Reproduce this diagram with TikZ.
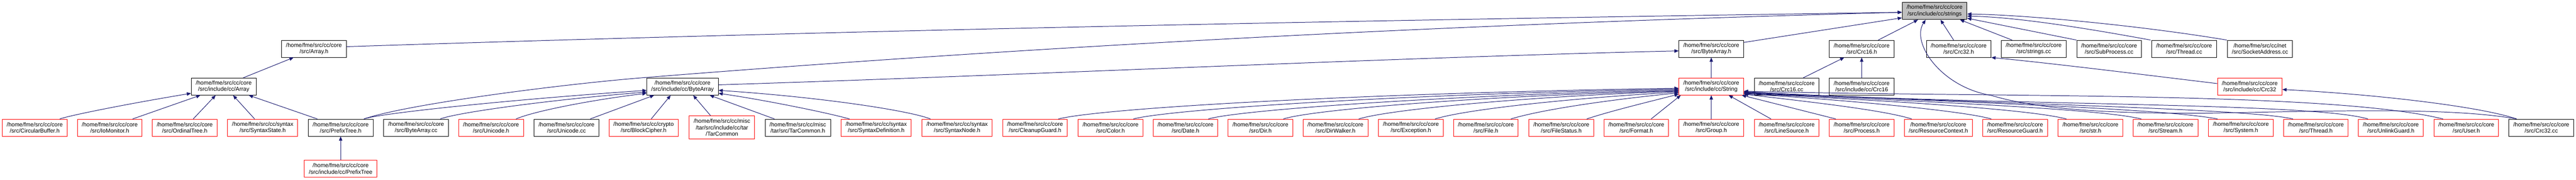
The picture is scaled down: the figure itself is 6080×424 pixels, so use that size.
\documentclass[tikz,border=0pt]{standalone}
\usepackage{fontspec}
\setmainfont{Liberation Sans}
\usetikzlibrary{arrows.meta}
\definecolor{midnight}{HTML}{191970}
\definecolor{boxgray}{HTML}{BFBFBF}
\newcommand{\nodefont}{\fontsize{13.4pt}{15.3pt}\selectfont}
\begin{document}
\begin{tikzpicture}[x=1pt,y=-1pt,
  box/.style={draw=black, fill=white, line width=1.1pt, align=center, inner xsep=10.5pt, inner ysep=0pt, minimum height=40pt, font=\nodefont},
  redbox/.style={box, draw=red},
  graybox/.style={box, fill=boxgray},
  dep/.style={draw=midnight, line width=1.2pt, -{Triangle[length=10pt,width=8pt]}}]
\useasboundingbox (0,0) rectangle (6080,424);
\fill[white] (0,0) rectangle (6080,424);
% top
\node[graybox] (strings) at (4566,26) {/home/fme/src/cc/core\\/src/include/cc/strings};
% row 2
\node[box] (arrayh) at (741,115) {/home/fme/src/cc/core\\/src/Array.h};
\node[box] (bah) at (4039,115) {/home/fme/src/cc/core\\/src/ByteArray.h};
\node[box] (crc16h) at (4394,115) {/home/fme/src/cc/core\\/src/Crc16.h};
\node[box] (crc32h) at (4623,115) {/home/fme/src/cc/core\\/src/Crc32.h};
\node[box] (stringscc) at (4800,115) {/home/fme/src/cc/core\\/src/strings.cc};
\node[box] (subproc) at (4978,115) {/home/fme/src/cc/core\\/src/SubProcess.cc};
\node[box] (threadcc) at (5155,115) {/home/fme/src/cc/core\\/src/Thread.cc};
\node[box] (sockaddr) at (5334,115) {/home/fme/src/cc/net\\/src/SocketAddress.cc};
% row 3
\node[box] (incarray) at (528,204) {/home/fme/src/cc/core\\/src/include/cc/Array};
\node[box] (incba) at (1611,204) {/home/fme/src/cc/core\\/src/include/cc/ByteArray};
\node[redbox] (incstring) at (4039,204) {/home/fme/src/cc/core\\/src/include/cc/String};
\node[box] (crc16cc) at (4217,204) {/home/fme/src/cc/core\\/src/Crc16.cc};
\node[box] (inccrc16) at (4394,204) {/home/fme/src/cc/core\\/src/include/cc/Crc16};
\node[redbox] (inccrc32) at (5310,204) {/home/fme/src/cc/core\\/src/include/cc/Crc32};
% row 4
\node[redbox] (circ) at (82,301) {/home/fme/src/cc/core\\/src/CircularBuffer.h};
\node[redbox] (iomon) at (259,301) {/home/fme/src/cc/core\\/src/IoMonitor.h};
\node[redbox] (ordtree) at (436,301) {/home/fme/src/cc/core\\/src/OrdinalTree.h};
\node[redbox] (synstate) at (620,301) {/home/fme/src/cc/syntax\\/src/SyntaxState.h};
\node[box] (ptreeh) at (804,301) {/home/fme/src/cc/core\\/src/PrefixTree.h};
\node[box] (bacc) at (982,301) {/home/fme/src/cc/core\\/src/ByteArray.cc};
\node[redbox] (unih) at (1159,301) {/home/fme/src/cc/core\\/src/Unicode.h};
\node[box] (unicc) at (1337,301) {/home/fme/src/cc/core\\/src/Unicode.cc};
\node[redbox] (blockc) at (1519,301) {/home/fme/src/cc/crypto\\/src/BlockCipher.h};
\node[redbox, minimum height=55pt] (tarinc) at (1704,300.5) {/home/fme/src/cc/misc\\/tar/src/include/cc/tar\\/TarCommon};
\node[box] (tarh) at (1883,301) {/home/fme/src/cc/misc\\/tar/src/TarCommon.h};
\node[redbox] (syndef) at (2068,301) {/home/fme/src/cc/syntax\\/src/SyntaxDefinition.h};
\node[redbox] (synnode) at (2259,301) {/home/fme/src/cc/syntax\\/src/SyntaxNode.h};
\node[redbox] (cleanup) at (2443,301) {/home/fme/src/cc/core\\/src/CleanupGuard.h};
\node[redbox] (color) at (2621,301) {/home/fme/src/cc/core\\/src/Color.h};
\node[redbox] (date) at (2798,301) {/home/fme/src/cc/core\\/src/Date.h};
\node[redbox] (dir) at (2975,301) {/home/fme/src/cc/core\\/src/Dir.h};
\node[redbox] (dirwalker) at (3152,301) {/home/fme/src/cc/core\\/src/DirWalker.h};
\node[redbox] (exception) at (3330,301) {/home/fme/src/cc/core\\/src/Exception.h};
\node[redbox] (file) at (3507,301) {/home/fme/src/cc/core\\/src/File.h};
\node[redbox] (filestatus) at (3685,301) {/home/fme/src/cc/core\\/src/FileStatus.h};
\node[redbox] (format) at (3862,301) {/home/fme/src/cc/core\\/src/Format.h};
\node[redbox] (group) at (4039,301) {/home/fme/src/cc/core\\/src/Group.h};
\node[redbox] (linesrc) at (4217,301) {/home/fme/src/cc/core\\/src/LineSource.h};
\node[redbox] (process) at (4394,301) {/home/fme/src/cc/core\\/src/Process.h};
\node[redbox] (rescontext) at (4575,301) {/home/fme/src/cc/core\\/src/ResourceContext.h};
\node[redbox] (resguard) at (4756,301) {/home/fme/src/cc/core\\/src/ResourceGuard.h};
\node[redbox] (strh) at (4934,301) {/home/fme/src/cc/core\\/src/str.h};
\node[redbox] (stream) at (5111,301) {/home/fme/src/cc/core\\/src/Stream.h};
\node[redbox] (system) at (5289,301) {/home/fme/src/cc/core\\/src/System.h};
\node[redbox] (threadh) at (5466,301) {/home/fme/src/cc/core\\/src/Thread.h};
\node[redbox] (unlink) at (5643,301) {/home/fme/src/cc/core\\/src/UnlinkGuard.h};
\node[redbox] (user) at (5821,301) {/home/fme/src/cc/core\\/src/User.h};
\node[box] (crc32cc) at (5998,301) {/home/fme/src/cc/core\\/src/Crc32.cc};
% row 5
\node[redbox] (incptree) at (804,398) {/home/fme/src/cc/core\\/src/include/cc/PrefixTree};

% ---- edges: Array group
\draw[dep] ([xshift=46pt]incarray.north) -- ([xshift=-48pt]arrayh.south);
\draw[dep] ([xshift=59pt]circ.north) .. controls (165,272) and (300,245) .. ([yshift=-16pt]incarray.west);
\draw[dep] ([xshift=54pt]iomon.north) -- ([xshift=-55pt]incarray.south);
\draw[dep] ([xshift=20pt]ordtree.north) -- ([xshift=-19pt]incarray.south);
\draw[dep] ([xshift=-19pt]synstate.north) -- ([xshift=22pt]incarray.south);
\draw[dep] ([xshift=-55pt]ptreeh.north) -- ([xshift=59pt]incarray.south);
\draw[dep] (incptree.north) -- (ptreeh.south);
% ---- to strings from the left
\draw[dep] ([yshift=5pt]arrayh.east) .. controls (2041,70) and (3265,47) .. ([yshift=-3pt]strings.west);
\draw[dep] ([xshift=55pt]ptreeh.north) .. controls (959,246) and (1320,199) .. (1520,183) .. controls (2510,104) and (3499,55) .. ([yshift=-3pt]strings.west);
% ---- ByteArray include group
\draw[dep] ([xshift=55pt]ptreeh.north) .. controls (890,268) and (1200,235) .. ([yshift=-9pt]incba.west);
\draw[dep] ([xshift=57pt]bacc.north) .. controls (1080,265) and (1300,235) .. ([yshift=-13pt]incba.west);
\draw[dep] ([xshift=59pt]unih.north) .. controls (1260,262) and (1400,235) .. ([yshift=-16pt]incba.west);
\draw[dep] ([xshift=56pt]unicc.north) -- ([xshift=-67pt]incba.south);
\draw[dep] ([xshift=18pt]blockc.north) -- ([xshift=-28pt]incba.south);
\draw[dep] ([xshift=-27pt]tarinc.north) -- ([xshift=25pt]incba.south);
\draw[dep] ([xshift=-55pt]tarh.north) -- ([xshift=64pt]incba.south);
\draw[dep] ([xshift=-63pt]syndef.north) .. controls (1950,265) and (1800,235) .. ([yshift=-16pt]incba.east);
\draw[dep] ([xshift=-63pt]synnode.north) .. controls (2150,262) and (1950,230) .. ([yshift=-9pt]incba.east);
\draw[dep] ([yshift=4pt]incba.east) .. controls (2400,178) and (3300,135) .. ([yshift=-5pt]bah.west);
\draw[dep] ([yshift=15pt]bah.east) -- ([yshift=-16pt]strings.west);
\draw[dep] (incstring.north) -- (bah.south);
% ---- String include group (left side)
\draw[dep] ([xshift=55pt]cleanup.north) .. controls (2600,255) and (3200,220) .. ([yshift=-4pt]incstring.west);
\draw[dep] ([xshift=54pt]color.north) .. controls (2760,258) and (3300,222) .. ([yshift=-6pt]incstring.west);
\draw[dep] ([xshift=54pt]date.north) .. controls (2920,260) and (3400,225) .. ([yshift=-8pt]incstring.west);
\draw[dep] ([xshift=54pt]dir.north) .. controls (3100,258) and (3500,226) .. ([yshift=-10pt]incstring.west);
\draw[dep] ([xshift=55pt]dirwalker.north) .. controls (3280,258) and (3600,228) .. ([yshift=-11pt]incstring.west);
\draw[dep] ([xshift=57pt]exception.north) .. controls (3460,258) and (3700,232) .. ([yshift=-13pt]incstring.west);
\draw[dep] ([xshift=59pt]file.north) .. controls (3640,258) and (3800,235) .. ([yshift=-15pt]incstring.west);
\draw[dep] ([xshift=60pt]filestatus.north) .. controls (3800,262) and (3900,238) .. ([yshift=-18pt]incstring.west);
\draw[dep] ([xshift=35pt]format.north) -- ([xshift=-72pt]incstring.south);
\draw[dep] (group.north) -- (incstring.south);
\draw[dep] ([xshift=-37pt]linesrc.north) -- ([xshift=41pt]incstring.south);
\draw[dep] ([xshift=-61pt]process.north) -- ([xshift=72pt]incstring.south);
% ---- String include group (right side)
\draw[dep] ([xshift=-63pt]rescontext.north) .. controls (4440,258) and (4250,238) .. ([yshift=-18pt]incstring.east);
\draw[dep] ([xshift=-56pt]resguard.north) .. controls (4620,258) and (4300,232) .. ([yshift=-17pt]incstring.east);
\draw[dep] ([xshift=-57pt]strh.north) .. controls (4780,255) and (4400,235) .. ([yshift=-16pt]incstring.east);
\draw[dep] ([xshift=-57pt]stream.north) .. controls (4950,255) and (4500,238) .. ([yshift=-15pt]incstring.east);
\draw[dep] ([xshift=-55pt]system.north) .. controls (5100,255) and (4600,240) .. ([yshift=-14pt]incstring.east);
\draw[dep] ([xshift=-54pt]threadh.north) .. controls (5300,255) and (4700,245) .. ([yshift=-13pt]incstring.east);
\draw[dep] ([xshift=-54pt]unlink.north) .. controls (5450,240) and (4700,250) .. ([yshift=-12pt]incstring.east);
\draw[dep] ([xshift=-55pt]user.north) .. controls (5500,215) and (4700,230) .. ([yshift=-11pt]incstring.east);
% ---- Crc16
\draw[dep] ([xshift=39pt]crc16h.north) -- ([xshift=-39pt]strings.south);
\draw[dep] ([xshift=39pt]crc16cc.north) -- ([xshift=-41pt]crc16h.south);
\draw[dep] (inccrc16.north) -- (crc16h.south);
% ---- Crc32 and others to strings
\draw[dep] ([xshift=-12pt]crc32h.north) -- ([xshift=14pt]strings.south);
\draw[dep] ([xshift=-51pt]stringscc.north) -- ([xshift=60pt]strings.south);
\draw[dep] ([xshift=-77pt]subproc.north) -- ([yshift=-17pt]strings.east);
\draw[dep] ([xshift=-79pt]threadcc.north) .. controls (4900,62) and (4750,40) .. ([yshift=-12pt]strings.east);
\draw[dep] ([xshift=-78pt]sockaddr.north) .. controls (5050,60) and (4780,35) .. ([yshift=-7pt]strings.east);
\draw[dep] ([yshift=7pt]inccrc32.west) .. controls (5050,175) and (4850,150) .. (crc32h.south east);
\draw[dep] ([xshift=-58pt]crc32cc.north) .. controls (5850,250) and (5600,222) .. ([yshift=-7pt]inccrc32.east);
\draw[dep] ([xshift=-58pt]crc32cc.north) .. controls (5780,252) and (5500,262) .. (5200,267) .. controls (4950,268) and (4800,255) .. (4700,225) .. controls (4580,205) and (4510,100) .. ([xshift=-21pt]strings.south);
\end{tikzpicture}
\end{document}
